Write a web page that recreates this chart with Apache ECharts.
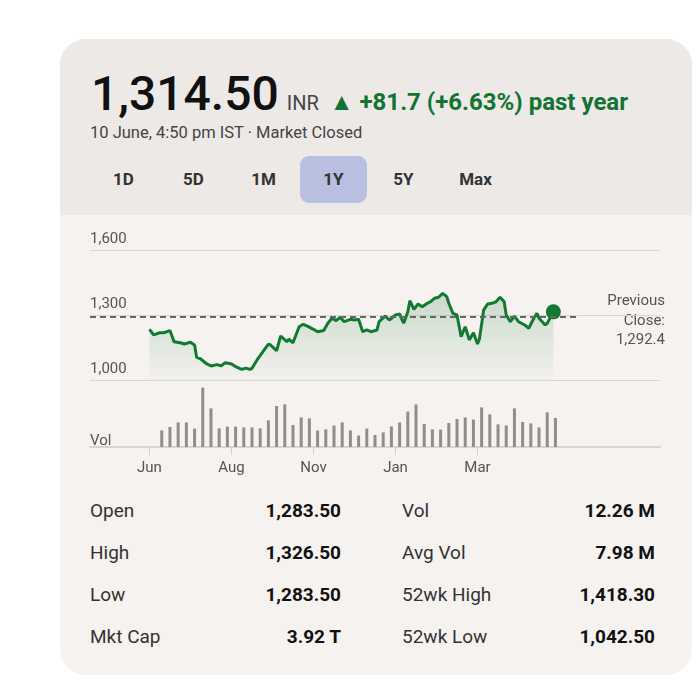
<!DOCTYPE html>
<html>
<head>
<meta charset="utf-8">
<script src="https://cdn.jsdelivr.net/npm/echarts@6/dist/echarts.min.js"></script>
<style>
    body { margin: 0; background: #fff; font-family: Roboto, "Noto Sans", sans-serif; }
    #card { position: absolute; left: 60px; top: 39px; width: 632px; height: 636px; border-radius: 26px; overflow: hidden; background: #f5f2ef; }
    #head { position: absolute; left: 0; top: 0; width: 632px; height: 176px; background: #ede9e6; }
    #price { position: absolute; left: 31px; top: 31px; line-height: 48px; white-space: nowrap; }
    #price .big { font-size: 48px; font-weight: 500; color: #111; }
    #price .cur { font-size: 20px; color: #444; margin-left: 8px; }
    #price .chg { font-size: 24px; font-weight: bold; color: #137333; margin-left: 11px; }
    #sub { position: absolute; left: 30px; top: 84px; font-size: 16.5px; color: #444; }
    .btn { position: absolute; top: 117px; width: 67px; height: 47px; line-height: 47px; text-align: center; font-size: 17px; font-weight: bold; color: #333; border-radius: 9px; }
    .btn.on { background: #b9bfe0; }
    .row { position: absolute; left: 30px; width: 565px; height: 24px; font-size: 19px; color: #333; }
    .row span { position: absolute; top: 0; }
    .row b { position: absolute; top: 0; color: #111; }
    #chart { position: absolute; left: 0; top: 0; width: 697px; height: 696px; }
</style>
</head>
<body>
<div id="card">
    <div id="head">
        <div id="price"><span class="big">1,314.50</span><span class="cur">INR</span><span class="chg">▲ +81.7 (+6.63%) past year</span></div>
        <div id="sub">10 June, 4:50 pm IST · Market Closed</div>
        <div class="btn" style="left:30px">1D</div>
        <div class="btn" style="left:100px">5D</div>
        <div class="btn" style="left:170px">1M</div>
        <div class="btn on" style="left:240px">1Y</div>
        <div class="btn" style="left:310px">5Y</div>
        <div class="btn" style="left:382px">Max</div>
    </div>
    <div id="stats"></div>
</div>
<div id="chart"></div>
<script>
// trading-day index and closing price
var priceDays = [0, 2, 5, 7, 10, 12, 15, 17, 20, 22, 23, 25, 28, 30, 33, 35, 37, 40, 42, 45, 47, 49, 50, 53, 55, 58, 59, 62, 64, 67, 68, 70,
    73, 75, 77, 80, 82, 85, 87, 89, 91, 93, 95, 98, 100, 102, 104, 106, 108, 111, 112, 115, 117, 120, 122, 123, 124, 126, 127, 129,
    131, 133, 135, 137, 139, 141, 143, 144, 145, 146, 148, 150, 152, 154, 156, 158, 160, 161, 163, 165, 167, 169, 171, 173, 174, 176,
    178, 180, 183, 185, 187, 189, 190, 193, 194, 197];
var prices = [1234, 1208, 1218, 1218, 1228, 1177, 1172, 1166, 1174, 1162, 1105, 1097, 1074, 1065, 1071, 1065, 1080, 1074, 1062, 1049, 1055, 1049, 1054, 1100, 1126, 1166, 1162, 1135, 1203, 1177, 1188, 1172,
    1246, 1257, 1249, 1234, 1223, 1228, 1262, 1285, 1274, 1289, 1269, 1280, 1277, 1280, 1223, 1231, 1223, 1231, 1269, 1295, 1277, 1300, 1305, 1282, 1262, 1315, 1366, 1326,
    1351, 1338, 1351, 1361, 1377, 1382, 1400, 1392, 1385, 1354, 1308, 1300, 1200, 1246, 1185, 1218, 1166, 1192, 1323, 1351, 1354, 1361, 1382, 1361, 1300, 1269,
    1295, 1269, 1254, 1238, 1277, 1308, 1285, 1254, 1262, 1314.5];
var prevClose = 1292.4;
var prevCloseEnd = 210;

// volume, millions
var volDays = [6, 10, 14, 18, 22, 26, 30, 34, 38, 42, 46, 50, 54, 58, 62, 66, 70, 74, 78, 82, 86, 90, 94, 98, 102,
    106, 110, 114, 118, 122, 126, 130, 134, 138, 142, 146, 150, 154, 158, 162, 166, 170, 174, 178, 182, 186, 190, 194, 198];
var volumes = [8.3, 10, 12.3, 12.3, 9.2, 29.7, 19.3, 9.3, 10.2, 10.2, 9.8, 9.8, 9.3, 13.3, 20.5, 21.3, 11, 14.8, 14.3, 8.2, 8.8, 10.7, 12.3, 8.3, 5.7,
    9.2, 6, 7.3, 10.3, 12.3, 17.7, 21.3, 11.5, 8.8, 8.7, 12, 14, 14.8, 13.7, 19.8, 16.3, 11.3, 10.8, 19.3, 12.5, 11.8, 9.8, 17.3, 14.5];

var tickDays = [0, 40, 80, 120, 160];
var tickLabels = ['Jun', 'Aug', 'Nov', 'Jan', 'Mar'];
var priceTicks = [1000, 1300, 1600];
var prevCloseLines = ['Previous', 'Close:', '1,292.4'];

var statLabels = [['Open', '1,283.50', 'Vol', '12.26 M'], ['High', '1,326.50', 'Avg Vol', '7.98 M'],
    ['Low', '1,283.50', '52wk High', '1,418.30'], ['Mkt Cap', '3.92 T', '52wk Low', '1,042.50']];

var html = '';
for (var i = 0; i < statLabels.length; i++) {
    var s = statLabels[i];
    html += '<div class="row" style="top:' + (460 + i * 42) + 'px">' +
        '<span style="left:0">' + s[0] + '</span>' +
        '<b style="right:314px">' + s[1] + '</b>' +
        '<span style="left:312px">' + s[2] + '</span>' +
        '<b style="right:0">' + s[3] + '</b></div>';
}
document.getElementById('stats').innerHTML = html;

var green = '#117a31';
var linePts = [];
for (var i = 0; i < priceDays.length; i++) linePts.push([priceDays[i], prices[i]]);
var volPts = [];
for (var i = 0; i < volDays.length; i++) volPts.push([volDays[i], volumes[i]]);
var last = linePts[linePts.length - 1];

var graphics = [
    { type: 'text', left: 90, top: 434, style: { text: 'Vol', fill: '#555', font: '15px Roboto' } }
];
for (var i = 0; i < prevCloseLines.length; i++) {
    graphics.push({ type: 'text', right: 32, top: 294 + i * 19.5, style: { text: prevCloseLines[i], fill: '#555', font: '15px Roboto' } });
}

var chart = echarts.init(document.getElementById('chart'));
chart.setOption({
    animation: false,
    backgroundColor: 'transparent',
    textStyle: { fontFamily: 'Roboto' },
    grid: [
        { left: 90, right: 37, top: 250, height: 130 },
        { left: 90, right: 37, top: 387, height: 60 }
    ],
    xAxis: [
        { gridIndex: 0, type: 'value', min: -29, max: 249, show: false },
        {
            gridIndex: 1, type: 'value', min: -29, max: 249,
            splitLine: { show: false },
            axisLine: { show: true, lineStyle: { color: '#d9d6d2', width: 2 } },
            axisTick: { show: true, customValues: tickDays, length: 8, lineStyle: { color: '#d2cfcb', width: 1 } },
            axisLabel: {
                customValues: tickDays, color: '#555', fontSize: 15, margin: 14,
                formatter: function (v) { return tickLabels[tickDays.indexOf(v)]; }
            }
        }
    ],
    yAxis: [
        {
            gridIndex: 0, type: 'value', min: 1000, max: 1600,
            axisLine: { show: false },
            axisTick: { show: false, customValues: priceTicks },
            splitLine: { show: true, lineStyle: { color: '#dad7d3', width: 1 } },
            axisLabel: {
                customValues: priceTicks, inside: true, margin: 0, verticalAlign: 'bottom', padding: [0, 0, 3, 0],
                color: '#555', fontSize: 15,
                formatter: function (v) { return v.toLocaleString('en-US'); }
            }
        },
        { gridIndex: 1, type: 'value', min: 0, max: 30, show: false }
    ],
    series: [
        {
            type: 'line', xAxisIndex: 0, yAxisIndex: 0, data: linePts,
            symbol: 'none', lineStyle: { color: green, width: 3 },
            areaStyle: {
                origin: 'start',
                color: new echarts.graphic.LinearGradient(0, 0, 0, 1, [
                    { offset: 0, color: 'rgba(70,110,80,0.3)' },
                    { offset: 0.35, color: 'rgba(17,122,49,0.18)' },
                    { offset: 1, color: 'rgba(17,122,49,0.02)' }
                ])
            },
            markLine: {
                silent: true, symbol: 'none', label: { show: false },
                lineStyle: { color: '#666', width: 2, type: [6, 4] },
                data: [[{ coord: [-29, prevClose] }, { coord: [prevCloseEnd, prevClose] }]]
            }
        },
        {
            type: 'scatter', xAxisIndex: 0, yAxisIndex: 0, data: [last],
            symbolSize: 15, itemStyle: { color: green, opacity: 1 }
        },
        {
            type: 'bar', xAxisIndex: 1, yAxisIndex: 1, data: volPts,
            barWidth: 3, itemStyle: { color: '#8e8e8e' }
        }
    ],
    graphic: graphics
});
</script>
</body>
</html>
